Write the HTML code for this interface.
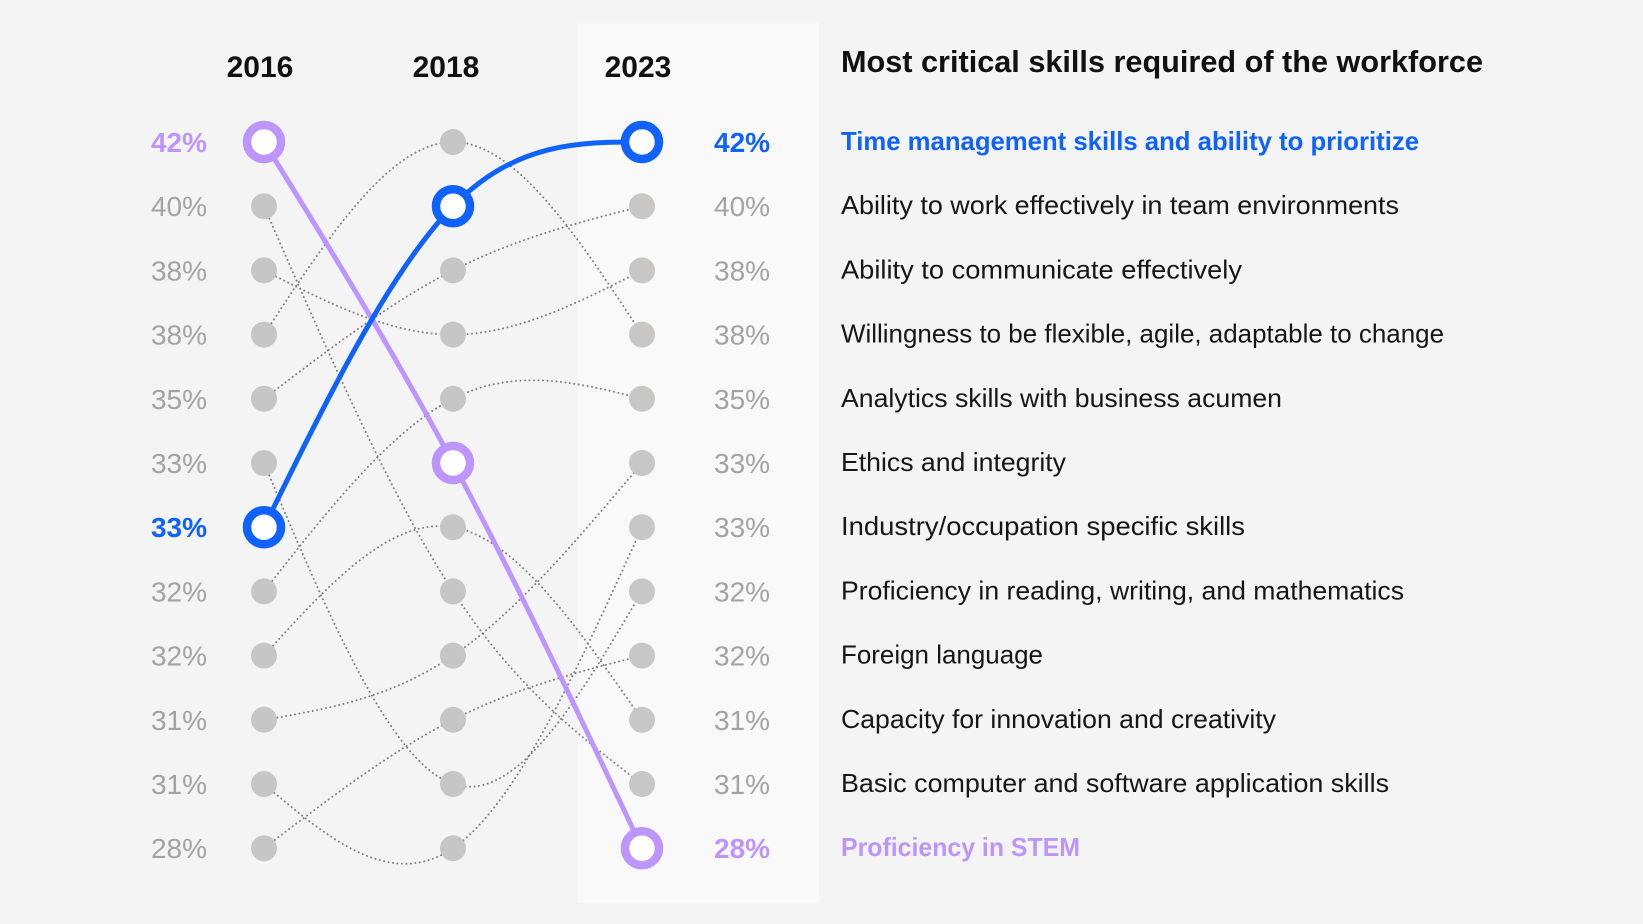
<!DOCTYPE html>
<html><head><meta charset="utf-8">
<style>
html,body{margin:0;padding:0;background:#f4f4f4;}
svg{display:block;}
text{font-family:"Liberation Sans",sans-serif;}
</style></head>
<body>
<svg id="chart" width="1643" height="924" viewBox="0 0 1643 924" xmlns="http://www.w3.org/2000/svg">
  <rect x="0" y="0" width="1643" height="924" fill="#f4f4f4"/>
  <rect x="578" y="23" width="241" height="880" fill="#f9f9f9"/>
  <text x="841" y="72" font-size="31" font-weight="bold" fill="#111" textLength="642" lengthAdjust="spacingAndGlyphs">Most critical skills required of the workforce</text>
  <g id="years"></g>
  <g id="lines"></g>
  <g id="dots"></g>
  <g id="labels"></g>
</svg>
<script>
const years = ["2016", "2018", "2023"];
const skills = ["Time management skills and ability to prioritize","Ability to work effectively in team environments","Ability to communicate effectively","Willingness to be flexible, agile, adaptable to change","Analytics skills with business acumen","Ethics and integrity","Industry/occupation specific skills","Proficiency in reading, writing, and mathematics","Foreign language","Capacity for innovation and creativity","Basic computer and software application skills","Proficiency in STEM"];
const rank2016 = [6,4,2,3,7,9,10,5,11,8,1,0];
const rank2018 = [1,2,3,0,4,8,11,10,9,6,7,5];
const rank2023 = [0,1,2,3,4,5,6,7,8,9,10,11];
const pct2016 = [42,40,38,38,35,33,33,32,32,31,31,28];
const pct2023 = [42,40,38,38,35,33,33,32,32,31,31,28];
const highlight = {0:"#0f62fe", 11:"#be95ff"};
const labelWidths = [578,558,401,603,441,225,404,563,202,435,548,239];

const NS="http://www.w3.org/2000/svg";
const colX = [264, 453, 642];
function xScale(i){return colX[i];}
function yScale(r){return 142 + r*64.2;}
function mk(tag, attrs, parent){const e=document.createElementNS(NS,tag);for(const k in attrs)e.setAttribute(k,attrs[k]);parent.appendChild(e);return e;}

const gY=document.getElementById('years'), gL=document.getElementById('lines'), gD=document.getElementById('dots'), gT=document.getElementById('labels');
years.forEach((yr,i)=>{
  const t=mk('text',{x:[260,446,638][i],y:77,'font-size':30,'font-weight':'bold','text-anchor':'middle',fill:'#111'},gY);
  
  
  t.textContent=yr;
});

function naturalPath(pts){
  const [x0,y0]=pts[0],[x1,y1]=pts[1],[x2,y2]=pts[2];
  const h0=x1-x0,h1=x2-x1,s0=(y1-y0)/h0,s1=(y2-y1)/h1;
  const M1=3*(s1-s0)/(h0+h1);
  const t=[s0-h0*M1/6, s0+h0*M1/3, s1+h1*M1/6];
  let d=`M${x0},${y0}`;
  for(let i=0;i<2;i++){
    const dx=(pts[i+1][0]-pts[i][0])/3;
    d+=` C${pts[i][0]+dx},${pts[i][1]+dx*t[i]} ${pts[i+1][0]-dx},${pts[i+1][1]-dx*t[i+1]} ${pts[i+1][0]},${pts[i+1][1]}`;
  }
  return d;
}

const order=[...skills.keys()].filter(i=>!(i in highlight)).concat([11,0]);
order.forEach(i=>{
  const pts=[[xScale(0),yScale(rank2016[i])],[xScale(1),yScale(rank2018[i])],[xScale(2),yScale(rank2023[i])]];
  const hc=highlight[i];
  const p=mk('path',{d:naturalPath(pts),fill:'none',stroke:hc||'#7d7d7d','stroke-width':hc?5:1.9,'stroke-dasharray':hc?'none':'0.1 4.4','stroke-linecap':'round'},hc?gD:gL);
  
  
  pts.forEach((pt,j)=>{
    const c=hc?mk('circle',{cx:pt[0],cy:pt[1],r:17,fill:'#fff',stroke:hc,'stroke-width':8.5},gD)
             :mk('circle',{cx:pt[0],cy:pt[1],r:13,fill:j==2?'#c9c6c6':'#c6c6c6'},gD);
    
    
  });
});

pct2016.forEach((v,r)=>{
  const s=rank2016.indexOf(r);
  const hc=highlight[s];
  const t=mk('text',{x:207,y:yScale(r)+10,'font-size':28,'text-anchor':'end',fill:hc||'#a3a3a3','font-weight':hc?'bold':'normal'},gT);
  
  
  t.textContent=v+'%';
});
pct2023.forEach((v,r)=>{
  const s=rank2023.indexOf(r);
  const hc=highlight[s];
  const t=mk('text',{x:714,y:yScale(r)+10,'font-size':28,fill:hc||'#a3a3a3','font-weight':hc?'bold':'normal'},gT);
  
  
  t.textContent=v+'%';
});
skills.forEach((s,i)=>{
  const hc=highlight[i];
  const t=mk('text',{x:841,y:yScale(rank2023[i])+8,'font-size':26,fill:hc||'#161616','font-weight':hc?'bold':'normal',textLength:labelWidths[i],lengthAdjust:'spacingAndGlyphs'},gT);
  
  
  t.textContent=s;
});
</script>
</body></html>
